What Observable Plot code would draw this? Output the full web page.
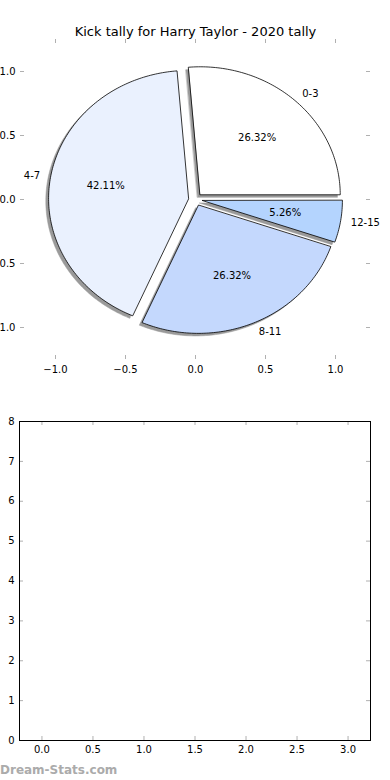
<!DOCTYPE html>
<html>
<head>
<meta charset="utf-8">
<script src="https://cdn.jsdelivr.net/npm/d3@7"></script>
<script src="https://cdn.jsdelivr.net/npm/@observablehq/plot@0.6"></script>
<style>
  html, body { margin: 0; padding: 0; background: #fff; }
  body { width: 390px; height: 780px; overflow: hidden; font-family: "DejaVu Sans", sans-serif; position: relative; }
  svg { display: block; }
  #wm { position: absolute; left: 0; top: 763px; font: 600 12px "DejaVu Sans", sans-serif; color: #ababab; }
</style>
</head>
<body>
<div id="top"></div>
<div id="bottom"></div>
<div id="wm">Dream-Stats.com</div>
<script>
// ---- data ----
const title = "Kick tally for Harry Taylor - 2020 tally";
const labels = ["0-3", "4-7", "8-11", "12-15"];
const values = [5, 8, 5, 1];
const colors = ["#ffffff", "#eaf1fe", "#c4d8fd", "#b4d4fe"];
const explode = [0.05, 0.05, 0.05, 0.05];
const pieTicks = [-1.0, -0.5, 0.0, 0.5, 1.0];
const bottomXTicks = [0, 0.5, 1, 1.5, 2, 2.5, 3];
const bottomYTicks = [0, 1, 2, 3, 4, 5, 6, 7, 8];

// ---- build pie geometry from values ----
const total = d3.sum(values);
const wedges = [];
const shadows = [];
const labelPts = [];
const pctPts = [];
let start = 0;
values.forEach((v, i) => {
  const sweep = 360 * v / total;
  const t1 = start, t2 = start + sweep;
  const mid = (t1 + t2) / 2 * Math.PI / 180;
  const cx = explode[i] * Math.cos(mid), cy = explode[i] * Math.sin(mid);
  const pts = [{x: cx, y: cy}];
  const n = Math.max(8, Math.ceil(sweep));
  for (let k = 0; k <= n; k++) {
    const a = (t1 + sweep * k / n) * Math.PI / 180;
    pts.push({x: cx + Math.cos(a), y: cy + Math.sin(a)});
  }
  pts.forEach(p => {
    wedges.push({...p, key: labels[i], color: colors[i]});
    shadows.push({x: p.x - 0.02, y: p.y - 0.02, key: labels[i]});
  });
  const lx = 1.1 * Math.cos(mid) + cx * 0.5, ly = 1.1 * Math.sin(mid) + cy * 0.5;
  labelPts.push({x: lx, y: ly, text: labels[i]});
  pctPts.push({x: cx + 0.6 * Math.cos(mid), y: cy + 0.6 * Math.sin(mid), text: (100 * v / total).toFixed(2) + "%"});
  start = t2;
});

const minus = d => d3.format(".1f")(d).replace("-", "\u2212");
const tickColor = "#b0b0b0";

// ---- top: pie ----
const topPlot = Plot.plot({
  width: 390,
  height: 380,
  marginTop: 39,
  marginBottom: 21,
  marginLeft: 20,
  marginRight: 20,
  style: {fontFamily: "DejaVu Sans, sans-serif", fontSize: "10px", color: "#000", background: "#fff"},
  x: {domain: [-1.25, 1.25], axis: null},
  y: {domain: [-1.25, 1.25], axis: null},
  marks: [
    // shadows
    Plot.line(shadows, {x: "x", y: "y", z: "key", curve: "linear-closed", fill: "#9a9a9a", stroke: "#9a9a9a", strokeWidth: 0.5}),
    // wedges
    Plot.line(wedges, {x: "x", y: "y", z: "key", curve: "linear-closed", fill: "color", stroke: "#000", strokeWidth: 0.8, strokeLinejoin: "miter"}),
    // labels
    Plot.text(labelPts.filter(d => d.x > 0), {x: "x", y: "y", text: "text", textAnchor: "start", fontSize: 10}),
    Plot.text(labelPts.filter(d => d.x <= 0), {x: "x", y: "y", text: "text", textAnchor: "end", fontSize: 10}),
    Plot.text(pctPts, {x: "x", y: "y", text: "text", fontSize: 10}),
    // tick marks (inward, all four sides)
    Plot.tickX(pieTicks, {x: d => d, insetTop: 316, stroke: tickColor}),
    Plot.tickX(pieTicks, {x: d => d, insetBottom: 316, stroke: tickColor}),
    Plot.tickY(pieTicks, {y: d => d, insetRight: 346, stroke: tickColor}),
    Plot.tickY(pieTicks, {y: d => d, insetLeft: 346, stroke: tickColor}),
    // tick labels
    Plot.axisX(pieTicks, {anchor: "bottom", tickSize: 0, tickPadding: 6, tickFormat: minus, fontSize: 10, label: null}),
    Plot.axisY(pieTicks, {anchor: "left", tickSize: 0, tickPadding: 5, tickFormat: minus, fontSize: 10, label: null}),
    // title
    Plot.text([title], {frameAnchor: "top", dy: -13, text: d => d, fontSize: 13})
  ]
});
document.getElementById("top").appendChild(topPlot);

// ---- bottom: empty axes ----
const botPlot = Plot.plot({
  width: 390,
  height: 378,
  marginTop: 41,
  marginBottom: 18,
  marginLeft: 19,
  marginRight: 20,
  style: {fontFamily: "DejaVu Sans, sans-serif", fontSize: "10px", color: "#000", background: "#fff"},
  x: {domain: [-0.22, 3.22], axis: null},
  y: {domain: [0, 8], axis: null},
  marks: [
    Plot.tickX(bottomXTicks, {x: d => d, insetTop: 315, stroke: tickColor}),
    Plot.tickX(bottomXTicks, {x: d => d, insetBottom: 315, stroke: tickColor}),
    Plot.tickY(bottomYTicks, {y: d => d, insetRight: 347, stroke: tickColor}),
    Plot.tickY(bottomYTicks, {y: d => d, insetLeft: 347, stroke: tickColor}),
    Plot.axisX(bottomXTicks, {anchor: "bottom", tickSize: 0, tickPadding: 5, tickFormat: d3.format(".1f"), fontSize: 10, label: null}),
    Plot.axisY(bottomYTicks, {anchor: "left", tickSize: 0, tickPadding: 5, tickFormat: d3.format("d"), fontSize: 10, label: null}),
    Plot.frame({stroke: "#000", strokeWidth: 1})
  ]
});
document.getElementById("bottom").appendChild(botPlot);
</script>
</body>
</html>
